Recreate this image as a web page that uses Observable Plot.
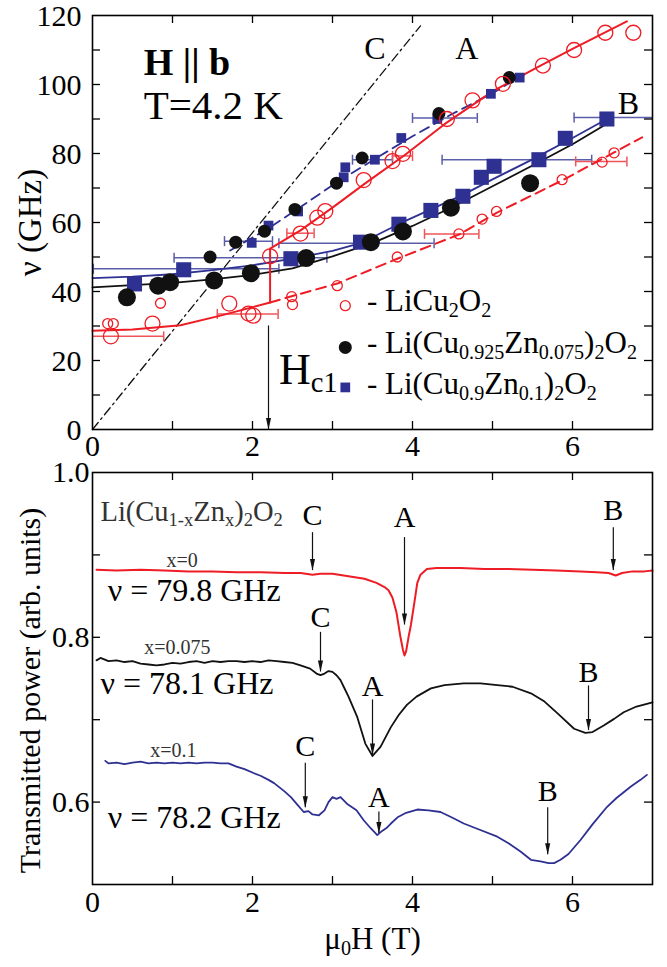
<!DOCTYPE html>
<html><head><meta charset="utf-8">
<script src="https://cdn.jsdelivr.net/npm/d3@7"></script>
<script src="https://cdn.jsdelivr.net/npm/@observablehq/plot@0.6"></script>
<style>
body{margin:0;background:#fff;}
#wrap{position:relative;width:667px;height:967px;background:#fff;}
#wrap svg{position:absolute;left:0;top:0;}
</style></head><body><div id="wrap"></div>
<script>
// ---------- tick arrays ----------
const xTickLabels = [0, 2, 4, 6];
const xTickMarks = [1, 2, 3, 4, 5, 6];
const topYLabels = [0, 20, 40, 60, 80, 100, 120];
const topYMarks = [10, 20, 30, 40, 50, 60, 70, 80, 90, 100, 110];
const botYLabels = [0.6, 0.8, 1.0];
const botYMarks = [0.6, 0.7, 0.8, 0.9];

// ---------- top panel: LiCu2O2 (red open circles) ----------
const redBigX = [0.23, 0.75, 1.71, 1.95, 2.01, 2.22, 2.6, 2.81, 2.91, 3.39, 3.75, 3.88, 4.43, 4.75, 5.13, 5.63, 6.02, 6.41, 6.76];
const redBigY = [27, 30.7, 36.5, 33.6, 33, 50.2, 56.8, 61.4, 63.3, 72.3, 77.8, 79.9, 90, 95.4, 100.2, 105.5, 110, 115, 115];
const redSmallX = [0.19, 0.26, 0.85, 2.49, 2.5, 3.06, 3.81, 4.58, 4.87, 5.05, 5.87, 6.37, 6.52];
const redSmallY = [30.7, 30.7, 36.6, 38.5, 36.2, 41.7, 50, 56.7, 61, 63.2, 72.4, 77.5, 80.2];
const redSolidX = [0, 0.5, 1.1, 1.6, 2.22, 2.22, 2.6, 3.0, 3.4, 3.9, 4.4, 5.0, 5.6, 6.0, 6.68];
const redSolidY = [28.6, 29, 30.2, 33, 36.8, 52.4, 57.7, 64.3, 71.2, 79.5, 88.5, 98, 105.5, 110.3, 118.3];
const redDashX = [2.22, 2.5, 3.06, 3.81, 4.58, 5.05, 5.88, 6.52, 6.87];
const redDashY = [36.8, 38.7, 42.3, 49.5, 56.5, 62.8, 72.3, 80.3, 84.7];
const redErrY = [27, 33.5, 56.9, 79.3, 56.7, 77.7];
const redErrX1 = [-0.4, 1.56, 2.43, 3.75, 4.15, 6.04];
const redErrX2 = [0.89, 2.32, 2.77, 4.0, 4.83, 6.68];

// ---------- Li(Cu0.925Zn0.075)2O2 (black filled circles) ----------
const blackBigX = [0.43, 0.82, 0.97, 1.52, 1.98, 2.67, 3.48, 3.88, 4.48, 5.47];
const blackBigY = [38.3, 41.7, 42.7, 43.2, 45.3, 49.7, 54.3, 57.4, 64.3, 71.4];
const blackSmallX = [1.47, 1.79, 2.15, 2.53, 3.05, 3.37, 4.33, 5.21];
const blackSmallY = [50, 54.3, 57.5, 63.8, 71.4, 78.7, 91.6, 102];
const blackLineX = [0, 1, 1.5, 2, 2.5, 3, 3.5, 4, 4.5, 5, 5.5, 6, 6.43];
const blackLineY = [41.2, 42.5, 43.5, 44.8, 46.7, 50.2, 54, 59, 64.5, 70.5, 76.5, 82.7, 88.6];

// ---------- Li(Cu0.9Zn0.1)2O2 (blue squares) ----------
const blueBigX = [0.525, 1.14, 2.48, 3.35, 3.83, 4.23, 4.63, 4.86, 5.02, 5.58, 5.91, 6.43];
const blueBigY = [42.2, 46.3, 49.5, 54.3, 59.5, 63.5, 67.6, 73.1, 76.3, 78.2, 84.4, 90];
const blueSmallX = [1.99, 2.2, 2.57, 3.14, 3.16, 3.53, 3.86, 4.31, 4.98, 5.34];
const blueSmallY = [54.1, 59.1, 63.2, 73.1, 76, 78.2, 84.5, 90, 97.3, 102];
const blueLineX = [0, 0.5, 1, 1.5, 2, 2.5, 3, 3.35, 3.85, 4.23, 4.63, 5, 5.5, 6, 6.43];
const blueLineY = [43.9, 44.3, 45, 46.2, 47.6, 49.5, 51.8, 54, 59.8, 63.8, 68, 72.5, 78.3, 84.5, 90];
const blueDashX = [1.72, 2.2, 2.6, 3.0, 3.5, 4.0, 4.5, 5.0, 5.4];
const blueDashY = [51.9, 58.3, 64.5, 70.8, 78, 85, 91.5, 97.5, 103];
const blueErrY = [46.6, 49.8, 54.6, 54.0, 78.2, 90.3, 78.2, 90.4];
const blueErrX1 = [0.01, 1.02, 1.65, 2.33, 3.25, 4.0, 4.37, 6.02];
const blueErrX2 = [2.33, 2.93, 2.25, 4.27, 3.75, 4.81, 6.24, 7.3];

// ---------- line C (dash-dot) ----------
const lineCX = [0, 4.1];
const lineCY = [0, 117];

// ---------- bottom panel spectra ----------
const specRedX = [0.05, 0.3, 0.6, 0.9, 1.2, 1.5, 1.8, 2.1, 2.4, 2.6, 2.75, 2.85, 3.0, 3.2, 3.4, 3.55, 3.65, 3.7, 3.75, 3.8, 3.85, 3.88, 3.9, 3.92, 3.95, 3.98, 4.02, 4.06, 4.1, 4.18, 4.3, 4.6, 4.9, 5.2, 5.5, 5.8, 6.1, 6.3, 6.45, 6.54, 6.62, 6.75, 6.9, 7.0];
const specRedY = [0.882, 0.881, 0.882, 0.881, 0.880, 0.880, 0.879, 0.879, 0.878, 0.878, 0.876, 0.877, 0.877, 0.874, 0.871, 0.866, 0.861, 0.857, 0.848, 0.830, 0.800, 0.785, 0.778, 0.783, 0.800, 0.815, 0.840, 0.866, 0.876, 0.883, 0.884, 0.884, 0.883, 0.883, 0.882, 0.881, 0.880, 0.879, 0.878, 0.875, 0.878, 0.880, 0.880, 0.881];
const specBlackX = [0.05, 0.1, 0.2, 0.3, 0.4, 0.5, 0.6, 0.7, 0.8, 0.9, 1.0, 1.1, 1.2, 1.3, 1.4, 1.5, 1.6, 1.7, 1.8, 1.9, 2.0, 2.1, 2.2, 2.3, 2.4, 2.5, 2.6, 2.72, 2.8, 2.85, 2.9, 2.95, 3.0, 3.05, 3.1, 3.14, 3.2, 3.31, 3.41, 3.5, 3.6, 3.73, 3.83, 3.93, 4.05, 4.23, 4.4, 4.64, 4.85, 5.06, 5.25, 5.48, 5.65, 5.81, 6.02, 6.16, 6.25, 6.39, 6.52, 6.64, 6.8, 7.0];
const specBlackY = [0.772, 0.775, 0.771, 0.772, 0.770, 0.771, 0.768, 0.767, 0.766, 0.767, 0.769, 0.768, 0.770, 0.771, 0.769, 0.771, 0.770, 0.771, 0.771, 0.770, 0.771, 0.770, 0.772, 0.771, 0.770, 0.769, 0.766, 0.762, 0.756, 0.754, 0.756, 0.759, 0.758, 0.754, 0.748, 0.740, 0.728, 0.703, 0.671, 0.656, 0.667, 0.691, 0.706, 0.718, 0.728, 0.738, 0.742, 0.744, 0.744, 0.742, 0.740, 0.732, 0.722, 0.708, 0.689, 0.684, 0.685, 0.693, 0.701, 0.709, 0.716, 0.721];
const specBlueX = [0.16, 0.2, 0.3, 0.4, 0.5, 0.6, 0.7, 0.8, 0.9, 1.0, 1.1, 1.2, 1.3, 1.4, 1.5, 1.6, 1.7, 1.8, 1.9, 2.02, 2.1, 2.2, 2.27, 2.4, 2.48, 2.56, 2.64, 2.7, 2.75, 2.83, 2.9, 2.95, 3.0, 3.05, 3.1, 3.18, 3.3, 3.39, 3.48, 3.56, 3.62, 3.68, 3.73, 3.82, 3.92, 4.06, 4.2, 4.35, 4.5, 4.64, 4.8, 5.06, 5.2, 5.35, 5.48, 5.6, 5.7, 5.77, 5.85, 5.95, 6.1, 6.25, 6.43, 6.55, 6.73, 6.85, 6.93];
const specBlueY = [0.650, 0.647, 0.648, 0.646, 0.648, 0.649, 0.647, 0.648, 0.647, 0.648, 0.647, 0.648, 0.647, 0.648, 0.648, 0.647, 0.647, 0.643, 0.640, 0.635, 0.632, 0.627, 0.623, 0.613, 0.606, 0.597, 0.588, 0.589, 0.585, 0.584, 0.590, 0.600, 0.606, 0.604, 0.606, 0.598, 0.590, 0.578, 0.568, 0.560, 0.565, 0.569, 0.574, 0.582, 0.587, 0.591, 0.590, 0.588, 0.581, 0.574, 0.568, 0.558, 0.550, 0.540, 0.530, 0.528, 0.526, 0.526, 0.530, 0.537, 0.554, 0.573, 0.594, 0.605, 0.619, 0.627, 0.633];

// annotations (letter, x, letter y, arrow start, arrow end)
const annLetters = ["C", "A", "B", "C", "A", "B", "C", "A", "B"];
const annX = [2.75, 3.9, 6.51, 2.85, 3.5, 6.2, 2.66, 3.58, 5.69];
const annLetterY = [0.948, 0.945, 0.954, 0.824, 0.741, 0.758, 0.668, 0.606, 0.613];
const annArrowY1 = [0.927, 0.921, 0.933, 0.806, 0.724, 0.741, 0.647, 0.588, 0.593];
const annArrowY2 = [0.881, 0.815, 0.881, 0.758, 0.657, 0.687, 0.593, 0.562, 0.536];

// ---------- colours ----------
const RED = "#ee1c24", BLUE = "#2e3192", BLACK = "#111";
const RED_ERR = "#f0545a", BLUE_ERR = "#5a5ea8";
const FONT = "Liberation Serif";

const zip = (xs, ys) => xs.map((x, i) => ({x, y: ys[i]}));
const errs = (ys, x1s, x2s) => ys.map((y, i) => ({y, x1: x1s[i], x2: x2s[i]}));
const caps = (e) => e.flatMap(d => [{x: d.x1, y: d.y}, {x: d.x2, y: d.y}]);

const vBar = {draw(ctx, size) { const s = Math.sqrt(size / Math.PI); ctx.moveTo(0, -s); ctx.lineTo(0, s); }};
const downTri = {draw(ctx, size) { const s = Math.sqrt(size / Math.PI); ctx.moveTo(0, 0); ctx.lineTo(-s * 0.8, -s * 3.6); ctx.lineTo(s * 0.8, -s * 3.6); ctx.closePath(); }};

function subscripts(svg) {
  d3.select(svg).selectAll("text").each(function () {
    const t = this.textContent;
    if (!t.includes("_{")) return;
    const sel = d3.select(this);
    sel.text(null);
    const re = /_\{([^}]*)\}/g; let last = 0, m;
    while ((m = re.exec(t))) {
      if (m.index > last) sel.append("tspan").text(t.slice(last, m.index));
      sel.append("tspan").attr("baseline-shift", "-28%").attr("font-size", "65%").text(m[1]);
      last = re.lastIndex;
    }
    if (last < t.length) sel.append("tspan").text(t.slice(last));
  });
}

// Two full-page overlaid SVGs; each panel's frame is set by its margins
const W = 667, H = 967, mL = 92, mR = 15;
const mT1 = 15, mB1 = H - 429;
const mT2 = 472, mB2 = H - 884;
const iw = W - mL - mR, ih1 = H - mT1 - mB1, ih2 = H - mT2 - mB2;
const TL = 8;

const redErr = errs(redErrY, redErrX1, redErrX2);
const blueErr = errs(blueErrY, blueErrX1, blueErrX2);

const topChart = Plot.plot({
  width: W, height: H, marginTop: mT1, marginBottom: mB1, marginLeft: mL, marginRight: mR,
  x: {domain: [0, 7], axis: null}, y: {domain: [0, 120], axis: null},
  style: {fontFamily: FONT, background: "transparent", color: "black"},
  marks: [
    Plot.line(zip(lineCX, lineCY), {x: "x", y: "y", stroke: BLACK, strokeWidth: 1.3, strokeDasharray: "9,4,2,4"}),
    Plot.ruleY(blueErr, {y: "y", x1: "x1", x2: "x2", stroke: BLUE_ERR, strokeWidth: 1.5, clip: true}),
    Plot.dot(caps(blueErr), {x: "x", y: "y", symbol: vBar, r: 5, stroke: BLUE_ERR, fill: "none", strokeWidth: 1.5, clip: true}),
    Plot.ruleY(redErr, {y: "y", x1: "x1", x2: "x2", stroke: RED_ERR, strokeWidth: 1.5, clip: true}),
    Plot.dot(caps(redErr), {x: "x", y: "y", symbol: vBar, r: 5, stroke: RED_ERR, fill: "none", strokeWidth: 1.5, clip: true}),
    Plot.line(zip(blueLineX, blueLineY), {x: "x", y: "y", stroke: BLUE, strokeWidth: 1.8}),
    Plot.line(zip(blueDashX, blueDashY), {x: "x", y: "y", stroke: BLUE, strokeWidth: 1.8, strokeDasharray: "10,6"}),
    Plot.line(zip(blackLineX, blackLineY), {x: "x", y: "y", stroke: BLACK, strokeWidth: 1.8}),
    Plot.line(zip(redSolidX, redSolidY), {x: "x", y: "y", stroke: RED, strokeWidth: 2}),
    Plot.line(zip(redDashX, redDashY), {x: "x", y: "y", stroke: RED, strokeWidth: 2, strokeDasharray: "10,6"}),
    Plot.dot(zip(blueBigX, blueBigY), {x: "x", y: "y", symbol: "square", r: 8.5, fill: BLUE}),
    Plot.dot(zip(blueSmallX, blueSmallY), {x: "x", y: "y", symbol: "square", r: 5.5, fill: BLUE}),
    Plot.dot(zip(blackBigX, blackBigY), {x: "x", y: "y", r: 9, fill: BLACK}),
    Plot.dot(zip(blackSmallX, blackSmallY), {x: "x", y: "y", r: 6.5, fill: BLACK}),
    Plot.dot(zip(redBigX, redBigY), {x: "x", y: "y", r: 7.5, stroke: RED, fill: "none", strokeWidth: 1.3}),
    Plot.dot(zip(redSmallX, redSmallY), {x: "x", y: "y", r: 5, stroke: RED, fill: "none", strokeWidth: 1.3}),
    // H_c1 arrow
    Plot.ruleX([2.2], {x: d => d, y1: 30, y2: 0, stroke: BLACK, strokeWidth: 1.2}),
    Plot.dot([2.2], {x: d => d, y: 0, symbol: downTri, r: 3.2, fill: BLACK, stroke: "none"}),
    Plot.text(["H_{c1}"], {x: 2.33, y: 17.4, text: d => d, textAnchor: "start", fontSize: 44}),
    // labels
    Plot.text(["H || b"], {x: 0.64, y: 106.4, text: d => d, textAnchor: "start", fontSize: 38, fontWeight: "bold"}),
    Plot.text(["T=4.2 K"], {x: 0.64, y: 93.9, text: d => d, textAnchor: "start", fontSize: 41}),
    Plot.text(["C", "A", "B"], {x: [3.53, 4.68, 6.7], y: [110.4, 110.4, 94.5], text: d => d, fontSize: 32}),
    // legend
    Plot.dot([0], {x: 3.16, y: 35.9, r: 5, stroke: RED, fill: "none", strokeWidth: 1.3}),
    Plot.dot([0], {x: 3.16, y: 23.8, r: 6.5, fill: BLACK}),
    Plot.dot([0], {x: 3.16, y: 12.2, symbol: "square", r: 5.5, fill: BLUE}),
    Plot.text(["- LiCu_{2}O_{2}", "- Li(Cu_{0.925}Zn_{0.075})_{2}O_{2}", "- Li(Cu_{0.9}Zn_{0.1})_{2}O_{2}"],
      {x: 3.43, y: [37.1, 25.1, 13.3], text: d => d, textAnchor: "start", fontSize: 31}),
    // frame & ticks
    Plot.frame({stroke: "black", strokeWidth: 1.6}),
    Plot.ruleX(xTickMarks, {x: d => d, insetTop: ih1 - TL, strokeWidth: 1.3}),
    Plot.ruleX(xTickMarks, {x: d => d, insetBottom: ih1 - TL, strokeWidth: 1.3}),
    Plot.ruleY(topYMarks, {y: d => d, insetRight: iw - TL, strokeWidth: 1.3}),
    Plot.ruleY(topYMarks, {y: d => d, insetLeft: iw - TL, strokeWidth: 1.3}),
    Plot.text(xTickLabels, {x: d => d, text: d => String(d), frameAnchor: "bottom", lineAnchor: "top", dy: 5, fontSize: 30}),
    Plot.text(topYLabels, {y: d => d, text: d => String(d), frameAnchor: "left", textAnchor: "end", dx: -11, dy: 1, fontSize: 30}),
    Plot.text(["ν (GHz)"], {frameAnchor: "left", textAnchor: "middle", rotate: -90, dx: -62, fontSize: 33})
  ]
});

const specs = [
  {x: specRedX, y: specRedY, c: RED, w: 2},
  {x: specBlackX, y: specBlackY, c: BLACK, w: 1.8},
  {x: specBlueX, y: specBlueY, c: BLUE, w: 1.8}
];
const ann = annLetters.map((t, i) => ({t, x: annX[i], ly: annLetterY[i], y1: annArrowY1[i], y2: annArrowY2[i]}));

const bottomChart = Plot.plot({
  width: W, height: H, marginTop: mT2, marginBottom: mB2, marginLeft: mL, marginRight: mR,
  x: {domain: [0, 7], axis: null}, y: {domain: [0.5, 1.0], axis: null},
  style: {fontFamily: FONT, background: "transparent", color: "black"},
  marks: [
    ...specs.map(s => Plot.line(zip(s.x, s.y), {x: "x", y: "y", stroke: s.c, strokeWidth: s.w})),
    Plot.ruleX(ann, {x: "x", y1: "y1", y2: "y2", stroke: BLACK, strokeWidth: 1.2}),
    Plot.dot(ann, {x: "x", y: "y2", symbol: downTri, r: 3.2, fill: BLACK, stroke: "none"}),
    Plot.text(ann, {x: "x", y: "ly", text: "t", fontSize: 30}),
    Plot.text(["Li(Cu_{1-x}Zn_{x})_{2}O_{2}"], {x: 0.1, y: 0.952, text: d => d, textAnchor: "start", fontSize: 28.5, fill: "#333"}),
    Plot.text(["x=0", "x=0.075", "x=0.1"], {x: [1.12, 1.06, 1.01], y: [0.893, 0.787, 0.663], text: d => d, fontSize: 20, fill: "#333"}),
    Plot.text(["ν = 79.8 GHz", "ν = 78.1 GHz", "ν = 78.2 GHz"], {x: [0.19, 0.1, 0.19], y: [0.857, 0.744, 0.581], text: d => d, textAnchor: "start", fontSize: 32}),
    Plot.frame({stroke: "black", strokeWidth: 1.6}),
    Plot.ruleX(xTickMarks, {x: d => d, insetTop: ih2 - TL, strokeWidth: 1.3}),
    Plot.ruleX(xTickMarks, {x: d => d, insetBottom: ih2 - TL, strokeWidth: 1.3}),
    Plot.ruleY(botYMarks, {y: d => d, insetRight: iw - TL, strokeWidth: 1.3}),
    Plot.ruleY(botYMarks, {y: d => d, insetLeft: iw - TL, strokeWidth: 1.3}),
    Plot.text(xTickLabels, {x: d => d, text: d => String(d), frameAnchor: "bottom", lineAnchor: "top", dy: 6, fontSize: 30}),
    Plot.text(botYLabels, {y: d => d, text: d => d.toFixed(1), frameAnchor: "left", textAnchor: "end", dx: -3, fontSize: 30}),
    Plot.text(["Transmitted power (arb. units)"], {frameAnchor: "left", textAnchor: "middle", rotate: -90, dx: -62, dy: 12, fontSize: 30}),
    Plot.text(["μ_{0}H (T)"], {frameAnchor: "bottom", dy: 64, fontSize: 31})
  ]
});

subscripts(topChart); subscripts(bottomChart);
const wrap = document.getElementById("wrap");
wrap.appendChild(topChart); wrap.appendChild(bottomChart);
</script></body></html>
